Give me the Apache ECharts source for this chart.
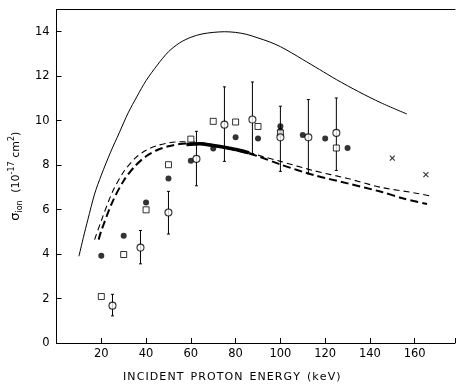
<!DOCTYPE html>
<html><head><meta charset="utf-8">
<script src="https://cdn.jsdelivr.net/npm/echarts@6/dist/echarts.min.js"></script>
<style>html,body{margin:0;padding:0;background:#fff}#c{width:458px;height:385px}</style>
</head><body><div id="c"></div>
<script>
// theory curves [energy keV, sigma]
var solidCurve = [[10,3.9],[12,4.75],[14,5.55],[17,6.7],[20,7.55],[24,8.55],[28,9.45],[32,10.35],[36,11.1],[40,11.8],[45,12.5],[50,13.1],[55,13.5],[60,13.75],[65,13.9],[70,13.97],[75,14.0],[80,13.97],[85,13.88],[90,13.72],[95,13.55],[100,13.33],[105,13.05],[110,12.75],[117.5,12.3],[125,11.85],[135,11.3],[145,10.8],[156.5,10.3]];
var dashUpper = [[17,4.65],[20,5.5],[25,6.8],[30,7.7],[35,8.3],[40,8.67],[45,8.88],[50,9.0],[55,9.05],[60,9.05],[70,8.92],[80,8.72],[90,8.45],[100,8.17],[115,7.75],[130,7.4],[145,7.0],[160,6.75],[167.5,6.6]];
var dashLower = [[18.8,4.65],[20,5.05],[25,6.35],[30,7.3],[35,7.95],[40,8.4],[45,8.68],[50,8.85],[55,8.95],[60,8.97],[70,8.88],[80,8.68],[90,8.4],[100,8.03],[115,7.55],[130,7.18],[145,6.8],[155,6.5],[165.5,6.25]];
var thickSegment = [[58,8.93],[64,8.96],[70,8.88],[76,8.78],[82,8.66],[86,8.55]];
// measured points
var filledCircles = [[20,3.92],[30,4.82],[40,6.32],[50,7.4],[60,8.2],[70,8.75],[80,9.25],[90,9.2],[100,9.75],[100,9.55],[110,9.35],[120,9.2],[130,8.77]];
var openSquares = [[20,2.09],[30,3.98],[40,5.99],[50,8.02],[60,9.17],[70,9.97],[80,9.94],[90,9.74],[100,9.45],[125,8.77]];
var openCircles = [[25,1.68],[37.5,4.29],[50,5.87],[62.5,8.28],[75,9.82],[87.5,10.05],[100,9.25],[112.5,9.25],[125,9.45]];
var errLow =  [1.22,3.56,4.9,7.07,8.17,8.51,7.72,7.61,7.76];
var errHigh = [2.19,5.06,6.82,9.52,11.52,11.74,10.65,10.95,11.02];
var crosses = [[150,8.32],[165,7.57]];
var xTicks = [20,40,60,80,100,120,140,160];
var yTicks = [0,2,4,6,8,10,12,14];

var errData = openCircles.map(function(p,i){return [p[0], errLow[i], errHigh[i]];});
var ink = '#000';
var font = 'DejaVu Sans';
var chart = echarts.init(document.getElementById('c'));
chart.setOption({
  animation:false,
  backgroundColor:'#fff',
  grid:{left:55,top:9.5,right:1.4,bottom:42},
  xAxis:[{
    type:'value',min:0,max:178,interval:20,
    axisLine:{lineStyle:{color:ink,width:1}},
    axisTick:{inside:true,length:5,lineStyle:{color:ink}},
    splitLine:{show:false},
    axisLabel:{color:ink,fontFamily:font,fontSize:11.5,margin:5,
      formatter:function(v){return xTicks.indexOf(v)>=0?String(v):'';}}
  },{
    type:'value',position:'top',min:0,max:178,
    axisLine:{show:true,onZero:false,lineStyle:{color:ink,width:1}},
    axisTick:{show:false},axisLabel:{show:false},splitLine:{show:false}
  }],
  yAxis:{
    type:'value',min:0,max:15,interval:2,
    axisLine:{show:true,lineStyle:{color:ink,width:1}},
    axisTick:{inside:true,length:5,lineStyle:{color:ink}},
    splitLine:{show:false},
    axisLabel:{color:ink,fontFamily:font,fontSize:11.5,margin:7,
      formatter:function(v){return yTicks.indexOf(v)>=0?String(v):'';}},
    name:'{s|σ}{sub|ion}  {n|(10}{sup|-17}{n| cm}{sup|2}{n|)}',
    nameLocation:'middle',nameRotate:90,nameGap:22,
    nameTextStyle:{color:ink,fontFamily:font,
      rich:{
        s:{fontSize:13,fontFamily:font,color:ink,lineHeight:16},
        n:{fontSize:11,fontFamily:font,color:ink,lineHeight:16},
        sub:{fontSize:8,fontFamily:font,color:ink,lineHeight:16,verticalAlign:'bottom',padding:[6,0,0,0]},
        sup:{fontSize:8,fontFamily:font,color:ink,lineHeight:16,verticalAlign:'top',padding:[0,0,6,0]}
      }}
  },
  graphic:[{
    type:'text',left:123,top:372,
    style:{text:'I\u200AN\u200AC\u200AI\u200AD\u200AE\u200AN\u200AT  P\u200AR\u200AO\u200AT\u200AO\u200AN  E\u200AN\u200AE\u200AR\u200AG\u200AY  (\u200Ak\u200Ae\u200AV\u200A)',
      fill:ink,font:'11px "DejaVu Sans"'}
  }],
  series:[
    {type:'line',data:solidCurve,smooth:0.3,showSymbol:false,lineStyle:{color:ink,width:1},z:2},
    {type:'line',data:dashUpper,smooth:0.3,showSymbol:false,lineStyle:{color:ink,width:1.1,type:[6,4]},z:2},
    {type:'line',data:dashLower,smooth:0.3,showSymbol:false,lineStyle:{color:ink,width:2,type:[8,4]},z:2},
    {type:'line',data:thickSegment,smooth:0.3,showSymbol:false,lineStyle:{color:ink,width:3.5},z:2},
    {type:'custom',data:errData,z:3,
      renderItem:function(params,api){
        var x=api.value(0);
        var lo=api.coord([x,api.value(1)]), hi=api.coord([x,api.value(2)]);
        var st={stroke:ink,lineWidth:1};
        return {type:'group',children:[
          {type:'line',shape:{x1:lo[0],y1:lo[1],x2:hi[0],y2:hi[1]},style:st},
          {type:'line',shape:{x1:lo[0]-1.5,y1:lo[1],x2:lo[0]+1.5,y2:lo[1]},style:st},
          {type:'line',shape:{x1:hi[0]-1.5,y1:hi[1],x2:hi[0]+1.5,y2:hi[1]},style:st}
        ]};
      }},
    {type:'scatter',data:filledCircles,symbol:'circle',symbolSize:6,itemStyle:{color:ink},z:4},
    {type:'scatter',data:openSquares,symbol:'rect',symbolSize:6,itemStyle:{color:'#fff',borderColor:ink,borderWidth:1},z:4},
    {type:'scatter',data:openCircles,symbol:'circle',symbolSize:7,itemStyle:{color:'#fff',borderColor:ink,borderWidth:1.1},z:5},
    {type:'scatter',data:crosses,symbol:'path://M0,0L10,10M10,0L0,10',symbolSize:5,itemStyle:{color:'none',borderColor:ink,borderWidth:1.1},z:4}
  ]
});
</script></body></html>
